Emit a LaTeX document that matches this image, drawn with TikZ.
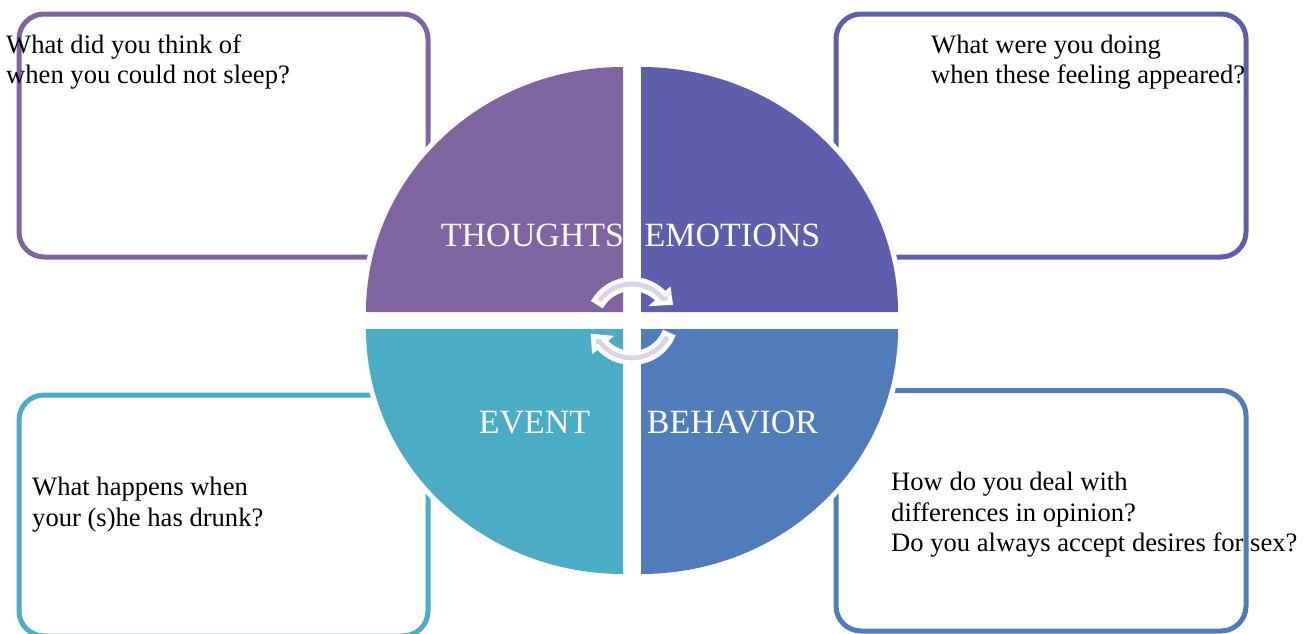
\documentclass[tikz,border=0pt]{standalone}
\usepackage{fontspec}
\setmainfont{Liberation Serif}
\definecolor{cTL}{RGB}{128,100,162}
\definecolor{cTR}{RGB}{95,94,173}
\definecolor{cBL}{RGB}{75,172,198}
\definecolor{cBR}{RGB}{80,124,186}
\definecolor{arrowc}{RGB}{216,213,230}
\begin{document}
\begin{tikzpicture}[x=1pt,y=-1pt,
  boxline/.style={line width=5pt, rounded corners=25pt},
  quad/.style={preaction={draw=white, line width=10pt, line join=round}},
  qtext/.style={text=white, font=\fontsize{34}{40}\selectfont, inner sep=0pt, anchor=base},
  btext/.style={text=black, font=\fontsize{26.6}{30}\selectfont, inner sep=0pt, anchor=base west},
  arrowshape/.style={fill=arrowc, draw=white, line width=4.5pt, line join=miter}
]
\fill[white] (0,0) rectangle (1307,633);
\useasboundingbox (0,0) rectangle (1307,633);

% boxes
\draw[boxline, draw=cTL] (19,14) rectangle (428,257);
\draw[boxline, draw=cTR] (836,14) rectangle (1246,257);
\draw[boxline, draw=cBL] (19,395) rectangle (428,636);
\draw[boxline, draw=cBR] (836,390.5) rectangle (1246,631);

% quadrants
\path[quad, fill=cTL] (623,312) -- (366,312) arc[start angle=180, end angle=270, x radius=257, y radius=245] -- cycle;
\path[quad, fill=cTR] (641,312) -- (641,67) arc[start angle=270, end angle=360, x radius=257, y radius=245] -- cycle;
\path[quad, fill=cBL] (623,329) -- (623,574) arc[start angle=90, end angle=180, x radius=257, y radius=245] -- cycle;
\path[quad, fill=cBR] (641,329) -- (898,329) arc[start angle=0, end angle=90, x radius=257, y radius=245] -- cycle;

% labels
\node[qtext] (lt) at (532.5,246) {THOUGHTS};
\node[qtext] (le) at (732.5,246) {EMOTIONS};
\node[qtext] (lv) at (534.5,433) {EVENT};
\node[qtext] (lb) at (732.5,433) {BEHAVIOR};

% circular arrows
\path[arrowshape] ([shift={(632,324)}]-148:44.75) arc[start angle=-148, end angle=-42, radius=44.75]
  -- ([shift={(632,324)}]-42:49.5) -- ([shift={(632,324)}]-29:44) -- ([shift={(632,324)}]-42:30.5)
  -- ([shift={(632,324)}]-42:35.25) arc[start angle=-42, end angle=-148, radius=35.25] -- cycle;
\path[arrowshape] ([shift={(632,318)}]24.5:44.75) arc[start angle=24.5, end angle=140, radius=44.75]
  -- ([shift={(632,318)}]140:49.5) -- ([shift={(632,318)}]155:43) -- ([shift={(632,318)}]140:30.5)
  -- ([shift={(632,318)}]140:35.25) arc[start angle=140, end angle=24.5, radius=35.25] -- cycle;

% box texts
\node[btext] (q1a) at (6,53.3) {What did you think of};
\node[btext] (q1b) at (6,83.3) {when you could not sleep?};
\node[btext] (q2a) at (931,53.3) {What were you doing};
\node[btext] (q2b) at (931,83.3) {when these feeling appeared?};
\node[btext] (q3a) at (32,495.7) {What happens when};
\node[btext] (q3b) at (32,526.7) {your (s)he has drunk?};
\node[btext] (q4a) at (891,490.7) {How do you deal with};
\node[btext] (q4b) at (891,521.4) {differences in opinion?};
\node[btext] (q4c) at (891,551.7) {Do you always accept desires for sex?};
\end{tikzpicture}
\end{document}
